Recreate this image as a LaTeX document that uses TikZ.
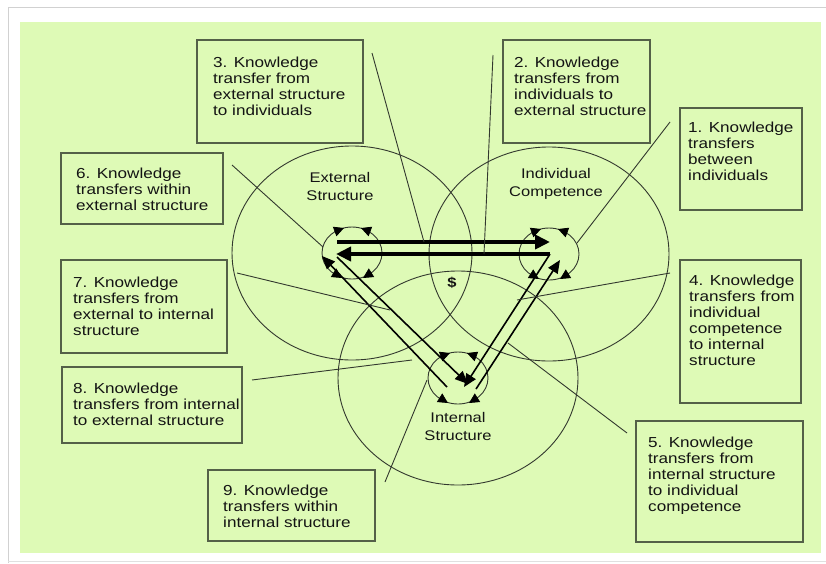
\documentclass[tikz,border=0pt]{standalone}
\usepackage{fontspec}
\newfontfamily\boxfont[FakeStretch=1.18]{Liberation Sans}
\usetikzlibrary{arrows.meta}
\definecolor{bggreen}{RGB}{222,250,182}
\definecolor{boxline}{RGB}{84,96,72}
\definecolor{ringline}{RGB}{50,56,46}
\tikzset{
  kbox/.style={draw=boxline,line width=1.4pt,inner sep=0pt,outer sep=0pt,anchor=north west},
  ktext/.style={font=\boxfont\fontsize{14.5}{16}\selectfont,align=left,inner sep=0pt,anchor=north west,text=black!92},
  klabel/.style={font=\boxfont\fontsize{14}{18}\selectfont,align=center,inner sep=0pt,text=black!92},
  ring/.style={draw=ringline,line width=0.9pt},
  pointer/.style={draw=ringline,line width=0.9pt},
  bigarrow/.style={line width=3.8pt,-{Triangle[length=15pt,width=14pt]}},
  diagarrow/.style={line width=1.6pt,-{Triangle[length=13pt,width=11pt]}},
  tip/.style={line width=0.8pt,-{Triangle[length=10pt,width=10pt]}},
}
\newcommand\knot[1]{%
  \draw[ring] (#1) ellipse [x radius=30, y radius=26];
  \draw[tip] ([shift={(-16,-22)}]#1) -- ++(8,-3);
  \draw[tip] ([shift={(17,-22)}]#1) -- ++(-8,-3);
  \draw[tip] ([shift={(-18,20)}]#1) -- ++(8,5);
  \draw[tip] ([shift={(19,20)}]#1) -- ++(-8,5);
}
\begin{document}
\begin{tikzpicture}[x=1pt,y=-1pt]
\useasboundingbox (0,0) rectangle (826,563);
\fill[white] (0,0) rectangle (826,563);
\draw[black!18,line width=1pt] (8,563) -- (8,7) -- (826,7);
\draw[black!12,line width=1pt] (8,561) -- (826,561);
\fill[bggreen] (20,22) rectangle (821,553);

% the three fields
\coordinate (ext) at (352,253);
\coordinate (ind) at (549,254);
\coordinate (int) at (458,378);
\draw[ring] (ext) ellipse [x radius=120, y radius=107];
\draw[ring] (ind) ellipse [x radius=120, y radius=107];
\draw[ring] (int) ellipse [x radius=120, y radius=107];
\knot{ext}
\knot{ind}
\knot{int}
\node[klabel] (extlab) at (340,186) {External\\Structure};
\node[klabel] (indlab) at (556,184) {Individual\\Competence};
\node[klabel] (intlab) at (458,426) {Internal\\Structure};
\node[klabel,font=\boxfont\bfseries\fontsize{14}{18}\selectfont] (money) at (452,283) {\$};

% transfers between the fields
\coordinate (e1) at (337,242);
\coordinate (i1) at (550,242);
\coordinate (i2) at (550,254);
\coordinate (e2) at (336,254);
\draw[bigarrow] (e1) -- (i1);
\draw[bigarrow] (i2) -- (e2);
\coordinate (e3) at (337,257);
\coordinate (n3) at (468,384);
\coordinate (n4) at (447,387);
\coordinate (e4) at (322,256);
\draw[diagarrow] (e3) -- (n3);
\draw[diagarrow] (n4) -- (e4);
\coordinate (n5) at (464,387);
\coordinate (n6) at (476,389);
\coordinate (i6) at (560,260);
\draw[diagarrow] (i2) -- (n5);
\draw[diagarrow] (n6) -- (i6);

% boxes
\node[kbox,minimum width=122,minimum height=102] (box1) at (680,108) {};
\node[kbox,minimum width=147,minimum height=103] (box2) at (503,40) {};
\node[kbox,minimum width=166,minimum height=103] (box3) at (197,40) {};
\node[kbox,minimum width=121,minimum height=143] (box4) at (680,260) {};
\node[kbox,minimum width=167,minimum height=121] (box5) at (636,421) {};
\node[kbox,minimum width=162,minimum height=71] (box6) at (61,153) {};
\node[kbox,minimum width=166,minimum height=93] (box7) at (61,260) {};
\node[kbox,minimum width=180,minimum height=76] (box8) at (62,367) {};
\node[kbox,minimum width=167,minimum height=71] (box9) at (208,470) {};

\node[ktext] (txt1) at (688,122) {1. Knowledge\\transfers\\between\\individuals};
\node[ktext] (txt2) at (514,57) {2. Knowledge\\transfers from\\individuals to\\external structure};
\node[ktext] (txt3) at (213,57) {3. Knowledge\\transfer from\\external structure\\to individuals};
\node[ktext] (txt4) at (689,275) {4. Knowledge\\transfers from\\individual\\competence\\to internal\\structure};
\node[ktext] (txt5) at (648,437) {5. Knowledge\\transfers from\\internal structure\\to individual\\competence};
\node[ktext] (txt6) at (76,168) {6. Knowledge\\transfers within\\external structure};
\node[ktext] (txt7) at (73,277) {7. Knowledge\\transfers from\\external to internal\\structure};
\node[ktext] (txt8) at (73,383) {8. Knowledge\\transfers from internal\\to external structure};
\node[ktext] (txt9) at (223,485) {9. Knowledge\\transfers within\\internal structure};

% pointers
\coordinate (p1) at (670,122); \coordinate (q1) at (577,243);
\coordinate (p2) at (493,55);  \coordinate (q2) at (484,254);
\coordinate (p3) at (372,53);  \coordinate (q3) at (424,242);
\coordinate (p4) at (670,273); \coordinate (q4) at (517,300);
\coordinate (p5) at (627,433); \coordinate (q5) at (508,343);
\coordinate (p6) at (232,165); \coordinate (q6) at (323,247);
\coordinate (p7) at (237,273); \coordinate (q7) at (390,310);
\coordinate (p8) at (252,380); \coordinate (q8) at (412,360);
\coordinate (p9) at (385,482); \coordinate (q9) at (427,380);
\foreach \k in {1,...,9} \draw[pointer] (p\k) -- (q\k);
\end{tikzpicture}
\end{document}
